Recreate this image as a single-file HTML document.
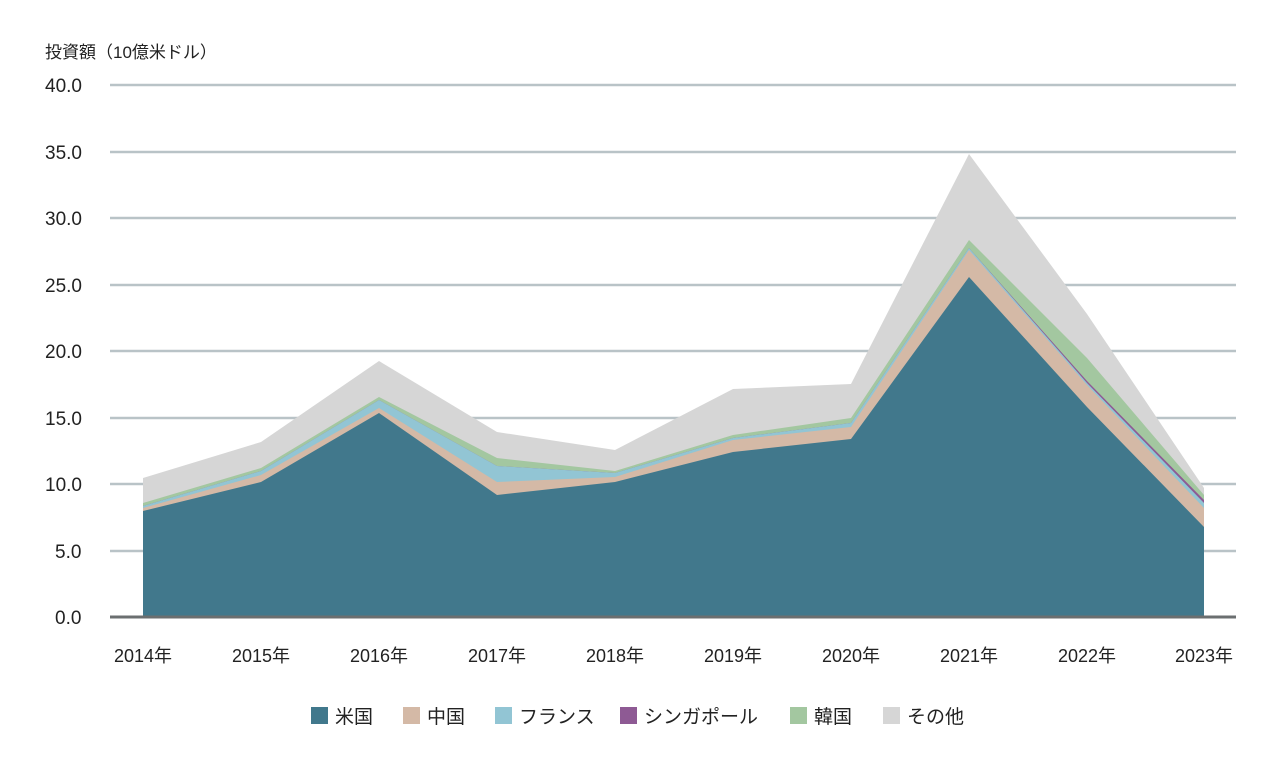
<!DOCTYPE html>
<html><head><meta charset="utf-8"><style>
body{margin:0;background:#fff;}
svg text{font-family:"Liberation Sans","Noto Sans CJK JP",sans-serif;fill:#222;}
</style></head><body>
<svg width="1280" height="768" xmlns="http://www.w3.org/2000/svg">
<text x="45" y="58" font-size="17">投資額（10億米ドル）</text>
<g stroke="#b9c3c7" stroke-width="2.5">
<line x1="110" x2="1236" y1="85" y2="85"/><line x1="110" x2="1236" y1="152" y2="152"/>
<line x1="110" x2="1236" y1="218" y2="218"/><line x1="110" x2="1236" y1="285" y2="285"/>
<line x1="110" x2="1236" y1="351" y2="351"/><line x1="110" x2="1236" y1="418" y2="418"/>
<line x1="110" x2="1236" y1="484" y2="484"/><line x1="110" x2="1236" y1="551" y2="551"/>
</g>
<g font-size="19">
<text x="45" y="92">40.0</text><text x="45" y="159">35.0</text><text x="45" y="225">30.0</text>
<text x="45" y="292">25.0</text><text x="45" y="358">20.0</text><text x="45" y="425">15.0</text>
<text x="45" y="491">10.0</text><text x="55" y="558">5.0</text><text x="55" y="624">0.0</text>
</g>
<polygon fill="#d6d6d6" points="143,617 143,478 261,442 379,361 497,432 615,450 733,389 851,384 969,154 1087,314 1204,488 1204,617"/>
<polygon fill="#a3c7a0" points="143,617 143,503 261,468 379,397 497,458 615,471 733,435 851,418 969,240 1087,358 1204,495 1204,617"/>
<polygon fill="#8e5a94" points="143,617 143,506 261,471 379,400 497,466 615,473 733,438 851,423 969,248 1087,381 1204,500 1204,617"/>
<polygon fill="#92c5d4" points="143,617 143,506 261,471 379,400 497,466 615,473 733,438 851,423 969,248 1087,383 1204,503 1204,617"/>
<polygon fill="#d4b9a6" points="143,617 143,508 261,475 379,408 497,482 615,477 733,440 851,427 969,250 1087,385 1204,508 1204,617"/>
<polygon fill="#41788c" points="143,617 143,511 261,482 379,413 497,495 615,482 733,452 851,439 969,277 1087,407 1204,527 1204,617"/>
<line x1="110" x2="1236" y1="617" y2="617" stroke="#6b6f70" stroke-width="3"/>
<g font-size="18" text-anchor="middle">
<text x="143" y="662">2014年</text><text x="261" y="662">2015年</text><text x="379" y="662">2016年</text>
<text x="497" y="662">2017年</text><text x="615" y="662">2018年</text><text x="733" y="662">2019年</text>
<text x="851" y="662">2020年</text><text x="969" y="662">2021年</text><text x="1087" y="662">2022年</text>
<text x="1204" y="662">2023年</text>
</g>
<g font-size="19">
<rect x="311" y="707" width="17" height="17" fill="#41788c"/><text x="335" y="723">米国</text>
<rect x="403" y="707" width="17" height="17" fill="#d4b9a6"/><text x="427" y="723">中国</text>
<rect x="495" y="707" width="17" height="17" fill="#92c5d4"/><text x="519" y="723">フランス</text>
<rect x="620" y="707" width="17" height="17" fill="#8e5a94"/><text x="644" y="723">シンガポール</text>
<rect x="790" y="707" width="17" height="17" fill="#a3c7a0"/><text x="814" y="723">韓国</text>
<rect x="883" y="707" width="17" height="17" fill="#d6d6d6"/><text x="907" y="723">その他</text>
</g>
</svg>
</body></html>
